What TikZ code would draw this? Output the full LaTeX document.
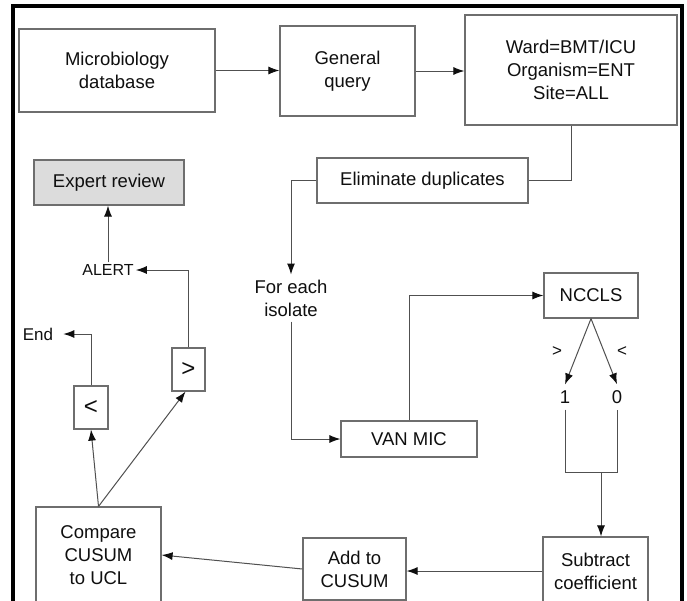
\documentclass[tikz,border=0pt]{standalone}
\usepackage{fontspec}
\setmainfont{Liberation Sans}
\usetikzlibrary{arrows.meta}
\definecolor{boxgray}{RGB}{110,110,110}
\definecolor{linegray}{RGB}{80,80,80}
\definecolor{txt}{RGB}{15,15,15}
\definecolor{expfill}{RGB}{220,220,220}
\begin{document}
\begin{tikzpicture}[x=1pt,y=-1pt,
  box/.style={draw=boxgray, line width=1.2pt, fill=white, inner sep=0pt, align=center,
              font=\fontsize{18.5}{23}\selectfont, text=txt},
  arr/.style={draw=linegray, line width=1pt, -{Latex[length=11pt,width=8pt,color=txt]}},
  ln/.style={draw=linegray, line width=1pt},
  lbl/.style={font=\fontsize{16}{20}\selectfont, text=txt, inner sep=2pt, align=center}]
\useasboundingbox (0,0) rectangle (687,600);
\clip (0,0) rectangle (687,600);
\fill[white] (0,0) rectangle (687,600);
\draw[black, line width=3.5pt] (13,6) rectangle (682,660);

% boxes
\node[box, minimum width=196pt, minimum height=83pt] (micro) at (117,70.5) {Microbiology\\database};
\node[box, minimum width=135pt, minimum height=90pt] (general) at (347.5,71) {General\\query};
\node[box, minimum width=212pt, minimum height=110pt] (ward) at (571,70) {Ward=BMT/ICU\\Organism=ENT\\Site=ALL};
\node[box, minimum width=211pt, minimum height=45pt] (elim) at (422.5,180.5) {Eliminate duplicates};
\node[box, fill=expfill, minimum width=150pt, minimum height=45pt] (expert) at (109,182.5) {Expert review};
\node[box, minimum width=94pt, minimum height=45pt] (nccls) at (591,295.5) {NCCLS};
\node[box, minimum width=136pt, minimum height=36pt] (vanmic) at (409,439) {VAN MIC};
\node[box, font=\fontsize{24}{24}\selectfont, minimum width=33pt, minimum height=43pt] (gt) at (188.5,369.5) {>};
\node[box, font=\fontsize{24}{24}\selectfont, minimum width=34pt, minimum height=43pt] (lt) at (91,407.5) {<};
\node[box, minimum width=125pt, minimum height=96pt] (compare) at (98.5,555) {Compare\\CUSUM\\to UCL};
\node[box, minimum width=103pt, minimum height=62pt] (add) at (354.5,569) {Add to\\CUSUM};
\node[box, minimum width=105pt, minimum height=68pt] (subtract) at (595.5,571) {Subtract\\coefficient};

% text nodes
\node[lbl, font=\fontsize{18.5}{23}\selectfont, inner sep=5pt] (foreach) at (291,298) {For each\\isolate};
\node[lbl] (alert) at (108,270) {ALERT};
\node[lbl, font=\fontsize{17}{20}\selectfont, inner xsep=10pt] (end) at (38,334) {End};
\node[lbl, font=\fontsize{18.5}{20}\selectfont, inner sep=6pt] (one) at (565,397) {1};
\node[lbl, font=\fontsize{18.5}{20}\selectfont, inner sep=6pt] (zero) at (617,397) {0};
\node[lbl, font=\fontsize{17}{20}\selectfont] (gtlab) at (557,352) {>};
\node[lbl, font=\fontsize{17}{20}\selectfont] (ltlab) at (622,352) {<};
\coordinate (join) at (601,472);

% connectors
\draw[arr] (micro.east) -- (general.west |- micro.east);
\draw[arr] (general.east) -- (ward.west |- general.east);
\draw[ln] (ward.south) |- (elim.east);
\draw[arr] (elim.west) -| (foreach.north);
\draw[arr] (foreach.south) |- (vanmic.west);
\draw[arr] (vanmic.north) |- (nccls.west);
\draw[arr] (nccls.south) -- (one.north);
\draw[arr] (nccls.south) -- (zero.north);
\draw[ln] (one.south) -- (one.south |- join) -- (zero.south |- join) -- (zero.south);
\draw[arr] (join) -- (join |- subtract.north);
\draw[arr] (subtract.west) -- (add.east |- subtract.west);
\draw[arr] (add.west) -- (compare.east);
\draw[arr] (compare.north) -- (lt.south);
\draw[arr] (compare.north) -- ([xshift=-3pt]gt.south);
\draw[arr] (lt.north) |- (end.east);
\draw[arr] (gt.north) |- (alert.east);
\draw[arr] (alert.north) -- (alert.north |- expert.south);
\end{tikzpicture}
\end{document}
